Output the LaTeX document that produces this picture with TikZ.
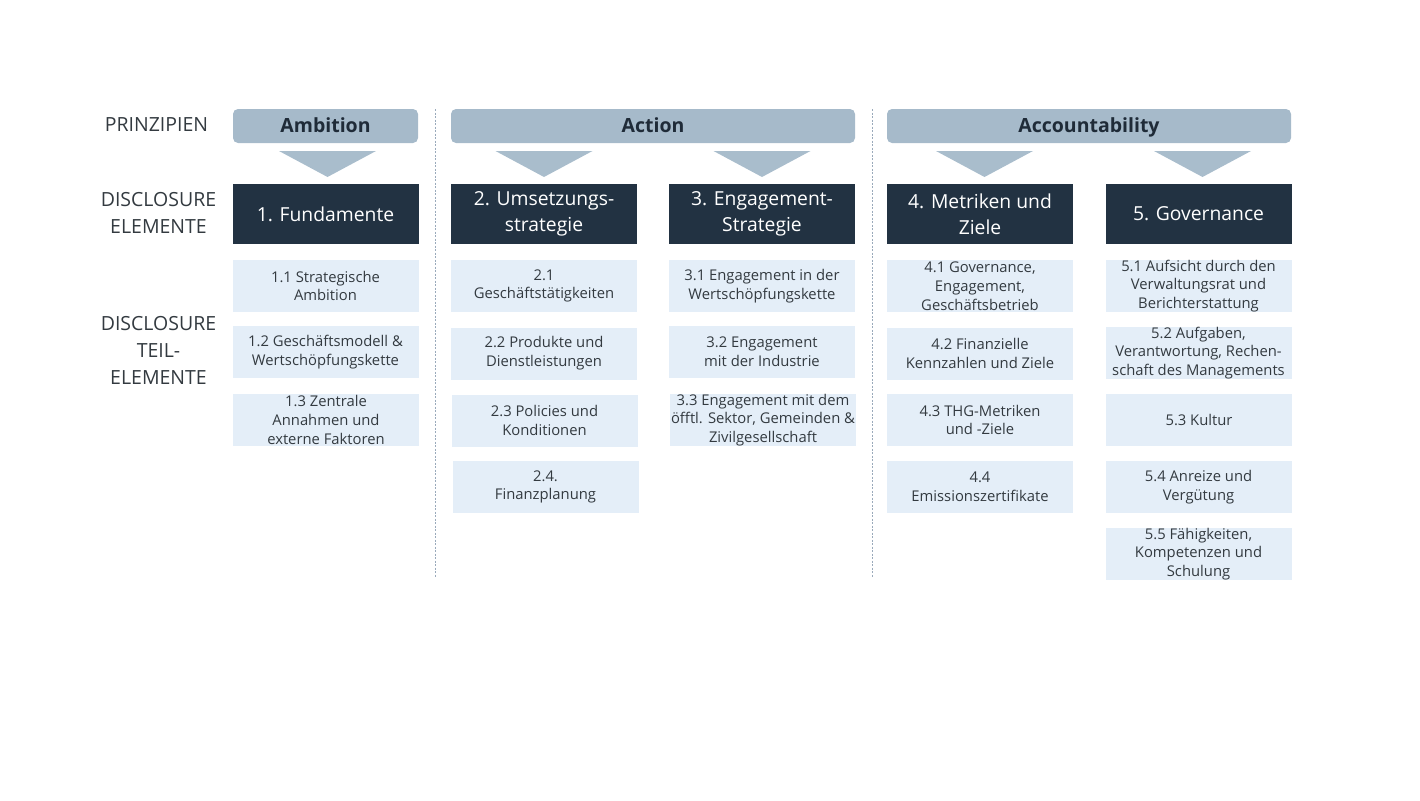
\documentclass[tikz,border=0pt]{standalone}
\usepackage{fontspec}
\setmainfont{Open Sans}
\definecolor{hdr}{HTML}{A6BACA}
\definecolor{tri}{HTML}{A9BDCC}
\definecolor{dark}{HTML}{223242}
\definecolor{light}{HTML}{E4EEF8}
\definecolor{txt}{HTML}{333A40}
\definecolor{hdrtxt}{HTML}{1F2B38}
\definecolor{sep}{HTML}{9AAABB}
\begin{document}
\begin{tikzpicture}[x=1pt,y=-1pt,
  header/.style={fill=hdr,rounded corners=5pt,minimum height=34pt,inner sep=0pt,
    text height=16.5pt,text depth=3.5pt,
    text=hdrtxt,font=\fontsize{19.5}{22}\selectfont\bfseries},
  darkbox/.style={fill=dark,minimum width=186pt,minimum height=60pt,inner sep=0pt,
    text=white,align=center,font=\fontsize{19.3}{26}\selectfont},
  subbox/.style={fill=light,minimum width=186pt,minimum height=52pt,inner sep=0pt,
    text=txt,align=center,font=\fontsize{14.8}{18.8}\selectfont},
  rowlabel/.style={text=txt,align=center,inner sep=0pt,font=\fontsize{19.5}{27}\selectfont},
  sepline/.style={draw=sep,dashed,dash pattern=on 2pt off 1.5pt,line width=0.8pt},
  trifill/.style={fill=tri}]
\useasboundingbox (0,0) rectangle (1420,800);

% row labels
\node[rowlabel] (lp) at (156.5,125) {PRINZIPIEN};
\node[rowlabel] (le) at (158.5,213) {DISCLOSURE\\ELEMENTE};
\node[rowlabel] (lt) at (158.5,350) {DISCLOSURE\\TEIL-\\ELEMENTE};

% headers
\node[header,minimum width=185pt] (hamb) at (325.5,126) {Ambition};
\node[header,minimum width=404pt] (hact) at (653,126) {Action};
\node[header,minimum width=404pt] (hacc) at (1089,126) {Accountability};

% triangles
\foreach \cx in {327.5,544,762,984.5,1202.5}{
  \fill[trifill] (\cx-48.5,151) -- (\cx+48.5,151) -- (\cx,177) -- cycle;
}

% separators
\coordinate (s1a) at (435,109); \coordinate (s1b) at (435,578);
\coordinate (s2a) at (872,109); \coordinate (s2b) at (872,578);
\draw[sepline] (s1a) -- (s1b);
\draw[sepline] (s2a) -- (s2b);

% dark element boxes
\node[darkbox] (e1) at (325.5,214) {1. Fundamente};
\node[darkbox] (e2) at (544,214) {2. Umsetzungs-\\strategie};
\node[darkbox] (e3) at (762,214) {3. Engagement-\\Strategie};
\node[darkbox] (e4) at (980,214) {4. Metriken und\\Ziele};
\node[darkbox] (e5) at (1198.5,214) {5. Governance};

% column 1
\node[subbox] (t11) at (325.5,286) {1.1 Strategische\\Ambition};
\node[subbox] (t12) at (325.5,352) {1.2 Geschäftsmodell \&\\Wertschöpfungskette};
\node[subbox] (t13) at (326,420) {1.3 Zentrale\\Annahmen und\\externe Faktoren};

% column 2
\node[subbox] (t21) at (544,286) {2.1\\Geschäftstätigkeiten};
\node[subbox] (t22) at (544,353.5) {2.2 Produkte und\\Dienstleistungen};
\node[subbox] (t23) at (544.5,420.5) {2.3 Policies und\\Konditionen};
\node[subbox] (t24) at (545.5,487) {2.4.\\Finanzplanung};

% column 3
\node[subbox] (t31) at (762,286) {3.1 Engagement in der\\Wertschöpfungskette};
\node[subbox] (t32) at (762,352) {3.2 Engagement\\mit der Industrie};
\node[subbox] (t33) at (763,420) {3.3 Engagement mit dem\\öfftl. Sektor, Gemeinden \&\\Zivilgesellschaft};

% column 4
\node[subbox] (t41) at (980,286) {4.1 Governance,\\Engagement,\\Geschäftsbetrieb};
\node[subbox] (t42) at (980,353.5) {4.2 Finanzielle\\Kennzahlen und Ziele};
\node[subbox] (t43) at (980,420) {4.3 THG-Metriken\\und -Ziele};
\node[subbox] (t44) at (980,487) {4.4\\Emissionszertifikate};

% column 5
\node[subbox] (t51) at (1198.5,286) {5.1 Aufsicht durch den\\Verwaltungsrat und\\Berichterstattung};
\node[subbox] (t52) at (1198.5,353) {5.2 Aufgaben,\\Verantwortung, Rechen-\\schaft des Managements};
\node[subbox] (t53) at (1199,420) {5.3 Kultur};
\node[subbox] (t54) at (1198.5,487) {5.4 Anreize und\\Vergütung};
\node[subbox] (t55) at (1198.5,554) {5.5 Fähigkeiten,\\Kompetenzen und\\Schulung};
\end{tikzpicture}
\end{document}
